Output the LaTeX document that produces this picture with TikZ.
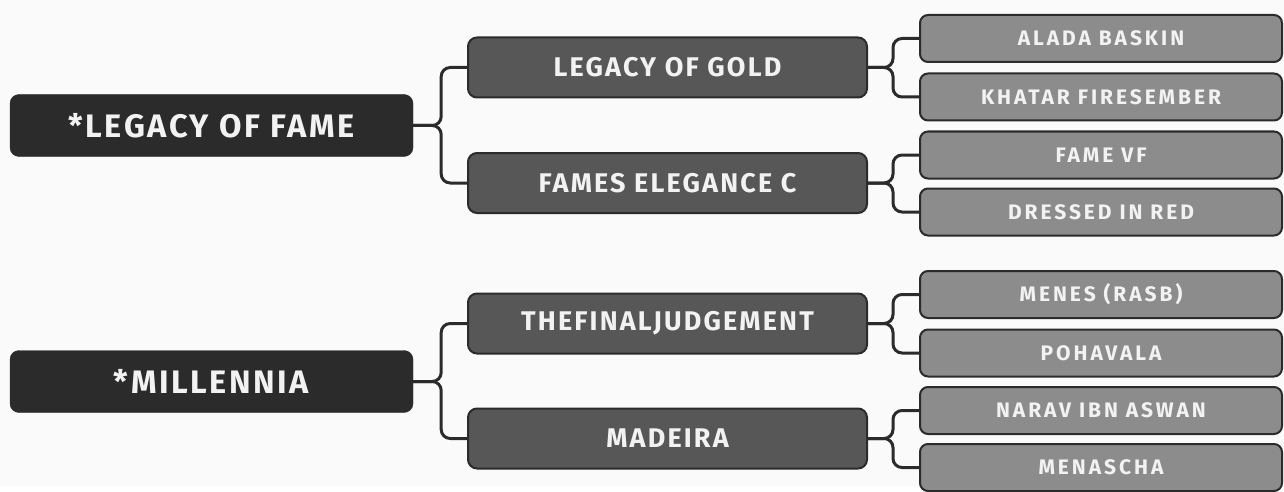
\documentclass[tikz,border=0pt]{standalone}
\usepackage{fontspec}
\setmainfont{Fira Sans}[LetterSpace=8]
\newfontfamily\spacedfont{Fira Sans}[LetterSpace=14]
\usetikzlibrary{positioning}
\definecolor{bgc}{HTML}{FAFAFA}
\definecolor{inkc}{HTML}{2B2B2B}
\definecolor{midc}{HTML}{575757}
\definecolor{lowc}{HTML}{8C8C8C}
\definecolor{txtc}{HTML}{F2F2F2}

\begin{document}
\begin{tikzpicture}[x=1pt,y=-1pt,
    sire/.style={fill=inkc,draw=inkc,rounded corners=9pt,minimum width=403pt,minimum height=62pt,
      text=txtc,font=\bfseries\fontsize{32.5}{32}\selectfont,inner sep=0pt},
    dam/.style={fill=midc,draw=inkc,line width=2pt,rounded corners=9pt,minimum width=399pt,minimum height=60pt,
      text=txtc,font=\bfseries\fontsize{27}{27}\selectfont,inner sep=0pt},
    gdam/.style={fill=lowc,draw=inkc,line width=2pt,rounded corners=8pt,minimum width=362pt,minimum height=47pt,
      text=txtc,font=\spacedfont\bfseries\fontsize{21}{21}\selectfont,inner sep=0pt},
    link/.style={draw=inkc,line width=3pt,rounded corners=9pt}]
  \fill[bgc] (0,0) rectangle (1284,486);

  \node[sire] (lf) at (211.5,125.5) {*LEGACY OF FAME};
  \node[dam] (lg) at (667.5,67.5) {LEGACY OF GOLD};
  \node[dam] (fe) at (667.5,183) {FAMES ELEGANCE C};
  \node[gdam] (ab) at (1101,38.5) {ALADA BASKIN};
  \node[gdam] (kf) at (1101,97) {KHATAR FIRESEMBER};
  \node[gdam] (fv) at (1101,155) {FAME VF};
  \node[gdam] (dr) at (1101,212) {DRESSED IN RED};

  \node[sire] (mi) at (211.5,381.5) {*MILLENNIA};
  \node[dam] (tj) at (667.5,323.5) {THEFINALJUDGEMENT};
  \node[dam] (ma) at (667.5,438.5) {MADEIRA};
  \node[gdam] (mr) at (1101,294.5) {MENES (RASB)};
  \node[gdam] (po) at (1101,353) {POHAVALA};
  \node[gdam] (na) at (1101,410.5) {NARAV IBN ASWAN};
  \node[gdam] (me) at (1101,467.5) {MENASCHA};

  \draw[link] (lf.east) -- ++(28,0) |- (lg.west);
  \draw[link] (lf.east) -- ++(28,0) |- (fe.west);
  \draw[link] (lg.east) -- ++(25,0) |- (ab.west);
  \draw[link] (lg.east) -- ++(25,0) |- (kf.west);
  \draw[link] (fe.east) -- ++(25,0) |- (fv.west);
  \draw[link] (fe.east) -- ++(25,0) |- (dr.west);

  \draw[link] (mi.east) -- ++(28,0) |- (tj.west);
  \draw[link] (mi.east) -- ++(28,0) |- (ma.west);
  \draw[link] (tj.east) -- ++(25,0) |- (mr.west);
  \draw[link] (tj.east) -- ++(25,0) |- (po.west);
  \draw[link] (ma.east) -- ++(25,0) |- (na.west);
  \draw[link] (ma.east) -- ++(25,0) |- (me.west);
\end{tikzpicture}
\end{document}
